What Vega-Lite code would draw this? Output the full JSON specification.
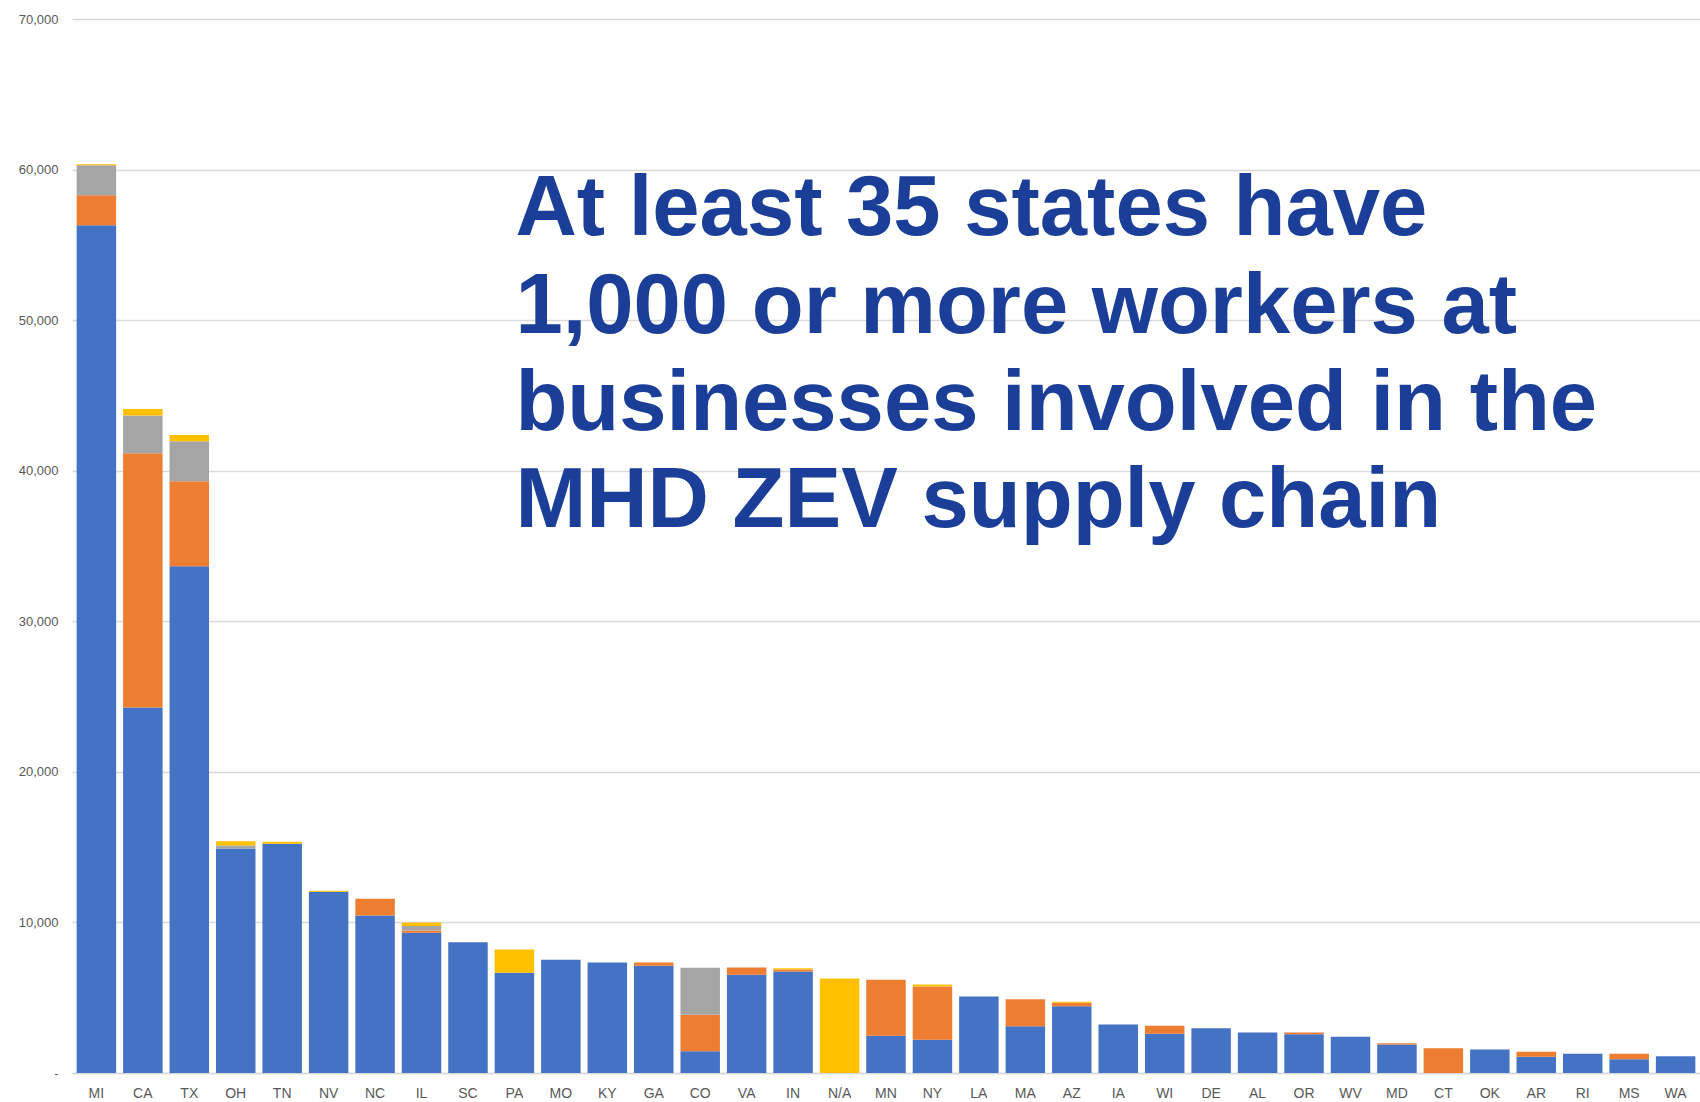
{
  "$schema": "https://vega.github.io/schema/vega-lite/v6.json",
  "width": 1628,
  "height": 1054,
  "padding": {"left": 18, "top": 13, "right": 0, "bottom": 0},
  "background": "white",
  "config": {"view": {"stroke": null}},
  "datasets": {
    "bars": [
      {"state": "MI", "series": "Series 1", "workers": 56310},
      {"state": "MI", "series": "Series 2", "workers": 1990},
      {"state": "MI", "series": "Series 3", "workers": 1990},
      {"state": "MI", "series": "Series 4", "workers": 60},
      {"state": "CA", "series": "Series 1", "workers": 24280},
      {"state": "CA", "series": "Series 2", "workers": 16880},
      {"state": "CA", "series": "Series 3", "workers": 2500},
      {"state": "CA", "series": "Series 4", "workers": 445},
      {"state": "TX", "series": "Series 1", "workers": 33650},
      {"state": "TX", "series": "Series 2", "workers": 5645},
      {"state": "TX", "series": "Series 3", "workers": 2655},
      {"state": "TX", "series": "Series 4", "workers": 425},
      {"state": "OH", "series": "Series 1", "workers": 14910},
      {"state": "OH", "series": "Series 3", "workers": 200},
      {"state": "OH", "series": "Series 4", "workers": 285},
      {"state": "TN", "series": "Series 1", "workers": 15220},
      {"state": "TN", "series": "Series 4", "workers": 130},
      {"state": "NV", "series": "Series 1", "workers": 12040},
      {"state": "NV", "series": "Series 4", "workers": 60},
      {"state": "NC", "series": "Series 1", "workers": 10460},
      {"state": "NC", "series": "Series 2", "workers": 1110},
      {"state": "IL", "series": "Series 1", "workers": 9310},
      {"state": "IL", "series": "Series 2", "workers": 150},
      {"state": "IL", "series": "Series 3", "workers": 310},
      {"state": "IL", "series": "Series 4", "workers": 220},
      {"state": "SC", "series": "Series 1", "workers": 8685},
      {"state": "PA", "series": "Series 1", "workers": 6650},
      {"state": "PA", "series": "Series 4", "workers": 1550},
      {"state": "MO", "series": "Series 1", "workers": 7515},
      {"state": "KY", "series": "Series 1", "workers": 7335},
      {"state": "GA", "series": "Series 1", "workers": 7120},
      {"state": "GA", "series": "Series 2", "workers": 220},
      {"state": "CO", "series": "Series 1", "workers": 1450},
      {"state": "CO", "series": "Series 2", "workers": 2415},
      {"state": "CO", "series": "Series 3", "workers": 3120},
      {"state": "VA", "series": "Series 1", "workers": 6520},
      {"state": "VA", "series": "Series 2", "workers": 485},
      {"state": "IN", "series": "Series 1", "workers": 6740},
      {"state": "IN", "series": "Series 2", "workers": 130},
      {"state": "IN", "series": "Series 4", "workers": 90},
      {"state": "N/A", "series": "Series 4", "workers": 6280},
      {"state": "MN", "series": "Series 1", "workers": 2470},
      {"state": "MN", "series": "Series 2", "workers": 3720},
      {"state": "NY", "series": "Series 1", "workers": 2200},
      {"state": "NY", "series": "Series 2", "workers": 3540},
      {"state": "NY", "series": "Series 4", "workers": 130},
      {"state": "LA", "series": "Series 1", "workers": 5080},
      {"state": "MA", "series": "Series 1", "workers": 3110},
      {"state": "MA", "series": "Series 2", "workers": 1790},
      {"state": "AZ", "series": "Series 1", "workers": 4435},
      {"state": "AZ", "series": "Series 2", "workers": 225},
      {"state": "AZ", "series": "Series 4", "workers": 65},
      {"state": "IA", "series": "Series 1", "workers": 3220},
      {"state": "WI", "series": "Series 1", "workers": 2600},
      {"state": "WI", "series": "Series 2", "workers": 530},
      {"state": "DE", "series": "Series 1", "workers": 2975},
      {"state": "AL", "series": "Series 1", "workers": 2690},
      {"state": "OR", "series": "Series 1", "workers": 2580},
      {"state": "OR", "series": "Series 2", "workers": 110},
      {"state": "WV", "series": "Series 1", "workers": 2405},
      {"state": "MD", "series": "Series 1", "workers": 1890},
      {"state": "MD", "series": "Series 2", "workers": 90},
      {"state": "CT", "series": "Series 2", "workers": 1645},
      {"state": "OK", "series": "Series 1", "workers": 1560},
      {"state": "AR", "series": "Series 1", "workers": 1075},
      {"state": "AR", "series": "Series 2", "workers": 330},
      {"state": "RI", "series": "Series 1", "workers": 1275},
      {"state": "MS", "series": "Series 1", "workers": 915},
      {"state": "MS", "series": "Series 2", "workers": 360},
      {"state": "WA", "series": "Series 1", "workers": 1115}
    ],
    "note": [
      {"state": "PA", "workers": 55630, "line": "At least 35 states have"},
      {"state": "PA", "workers": 49160, "line": "1,000 or more workers at"},
      {"state": "PA", "workers": 42680, "line": "businesses involved in the"},
      {"state": "PA", "workers": 36260, "line": "MHD ZEV supply chain"}
    ]
  },
  "layer": [
    {
      "data": {"name": "bars"},
      "mark": {"type": "bar"},
      "encoding": {
        "x": {
          "field": "state",
          "type": "nominal",
          "scale": {
            "domain": ["MI","CA","TX","OH","TN","NV","NC","IL","SC","PA","MO","KY","GA","CO","VA","IN","N/A","MN","NY","LA","MA","AZ","IA","WI","DE","AL","OR","WV","MD","CT","OK","AR","RI","MS","WA"],
            "paddingInner": 0.15,
            "paddingOuter": 0.1
          },
          "axis": {
            "title": null,
            "labelAngle": 0,
            "labelFont": "Liberation Sans",
            "labelFontSize": 14,
            "labelColor": "#595959",
            "labelPadding": 13,
            "ticks": false,
            "domainColor": "#D9D9D9",
            "domainWidth": 1.5,
            "grid": false
          }
        },
        "y": {
          "field": "workers",
          "type": "quantitative",
          "aggregate": "sum",
          "stack": "zero",
          "scale": {"domain": [0, 70000], "nice": false},
          "axis": {
            "title": null,
            "values": [0, 10000, 20000, 30000, 40000, 50000, 60000, 70000],
            "labelExpr": "datum.value == 0 ? '-' : format(datum.value, ',')",
            "labelFont": "Liberation Sans",
            "labelFontSize": 13,
            "labelColor": "#595959",
            "labelPadding": 14,
            "ticks": false,
            "domain": false,
            "gridColor": "#D9D9D9",
            "gridWidth": 1.5
          }
        },
        "color": {
          "field": "series",
          "type": "nominal",
          "scale": {
            "domain": ["Series 1", "Series 2", "Series 3", "Series 4"],
            "range": ["#4472C4", "#ED7D31", "#A5A5A5", "#FFC000"]
          },
          "legend": null
        },
        "order": {"field": "series", "sort": "ascending"}
      }
    },
    {
      "data": {"name": "note"},
      "mark": {
        "type": "text",
        "align": "left",
        "baseline": "alphabetic",
        "font": "Liberation Sans",
        "fontWeight": "bold",
        "fontSize": 85,
        "color": "#1B3F99",
        "dx": 1
      },
      "encoding": {
        "x": {"field": "state", "type": "nominal"},
        "y": {"field": "workers", "type": "quantitative"},
        "text": {"field": "line"}
      }
    }
  ]
}
